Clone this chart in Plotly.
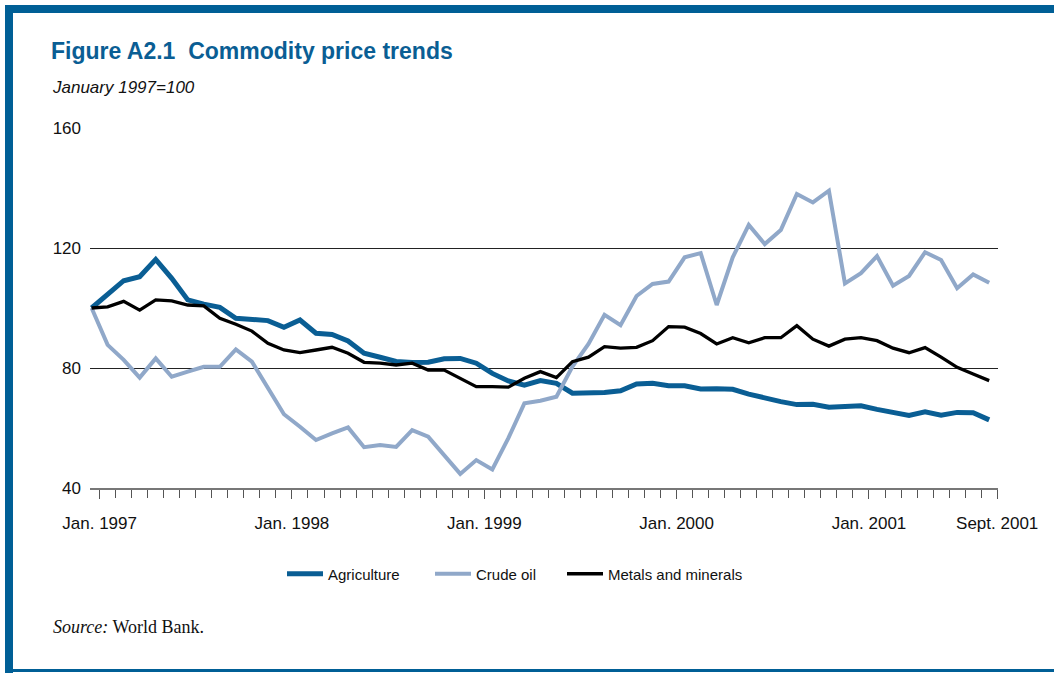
import plotly.graph_objects as go

# Monthly index values, January 1997 = 100 (Jan. 1997 .. Sept. 2001)
months = list(range(57))

agriculture = [
    100, 104.3, 109.1, 110.4, 116.2, 109.9, 102.7, 101.3, 100.2, 96.6,
    96.0, 95.8, 93.6, 96.0, 91.6, 91.2, 89.0, 84.9, 83.6, 82.2,
    81.8, 81.9, 83.1, 83.2, 81.6, 78.2, 75.7, 74.3, 75.8, 74.9,
    71.6, 71.7, 71.8, 72.4, 74.7, 74.9, 74.1, 74.1, 73.0, 73.1,
    72.9, 71.3, 69.9, 68.8, 67.8, 67.9, 66.9, 67.1, 67.4, 66.2,
    65.0, 64.2, 65.4, 64.3, 65.2, 65.1, 62.7,
]
crude_oil = [
    100, 87.7, 82.7, 76.8, 83.2, 77.1, 78.8, 80.4, 80.4, 86.2,
    82.1, 73.2, 64.6, 60.4, 56.0, 58.2, 60.2, 53.6, 54.3, 53.7,
    59.3, 57.1, 51.0, 44.7, 49.3, 46.2, 56.6, 68.2, 69.1, 70.4,
    80.5, 88.0, 97.7, 94.3, 104.0, 108.0, 108.8, 116.9, 118.3, 101.0,
    116.9, 127.7, 121.3, 126.0, 138.0, 135.2, 139.1, 108.2, 111.6, 117.3,
    107.4, 110.7, 118.6, 116.0, 106.6, 111.2, 108.4,
]
metals = [
    100, 100.4, 102.2, 99.3, 102.7, 102.4, 101.0, 100.7, 96.6, 94.6,
    92.3, 88.2, 86.0, 85.1, 86.0, 86.9, 84.9, 81.9, 81.6, 81.0,
    81.6, 79.3, 79.3, 76.6, 73.8, 73.8, 73.6, 76.6, 78.8, 76.8,
    82.1, 83.6, 87.1, 86.6, 86.9, 89.1, 93.8, 93.6, 91.5, 88.0,
    90.1, 88.4, 90.1, 90.1, 94.1, 89.6, 87.3, 89.6, 90.1, 89.1,
    86.6, 85.1, 86.8, 83.6, 80.2, 78.0, 75.8,
]

tick_months = [0, 12, 24, 36, 48, 56]
tick_labels = ["Jan. 1997", "Jan. 1998", "Jan. 1999", "Jan. 2000", "Jan. 2001", "Sept. 2001"]
y_ticks = [40, 80, 120, 160]

BLUE = "#0a5e94"
SANS = "Liberation Sans, Arial, sans-serif"

W, H = 1054, 673
L, R, T, B = 90, 56, 128, 185


def px_x(px):
    return (px - L) / (W - L - R)


def px_y(py):
    return (H - B - py) / (H - T - B)


fig = go.Figure()
fig.add_trace(go.Scatter(x=months, y=agriculture, name="Agriculture", mode="lines",
                         line=dict(color=BLUE, width=5), legend="legend"))
fig.add_trace(go.Scatter(x=months, y=crude_oil, name="Crude oil", mode="lines",
                         line=dict(color="#90a8c9", width=4), legend="legend2"))
fig.add_trace(go.Scatter(x=months, y=metals, name="Metals and minerals", mode="lines",
                         line=dict(color="#000000", width=3.3), legend="legend3"))

# ticks sit on the month boundaries
major = [m + 0.5 for m in tick_months]
x_range = [-0.1, 56.55]


def legend_at(px):
    # one legend per series so the entries can be spaced like the original
    return dict(orientation="h", x=px_x(px), xanchor="left", y=px_y(574), yanchor="middle",
                font=dict(family=SANS, size=15), itemwidth=36)


fig.update_layout(
    width=W, height=H,
    margin=dict(l=L, r=R, t=T, b=B),
    paper_bgcolor="white", plot_bgcolor="white",
    font=dict(family=SANS, size=17, color="#111"),
    showlegend=True,
    legend=legend_at(282),
    legend2=legend_at(430),
    legend3=legend_at(562),
    xaxis=dict(range=x_range, tickvals=major, ticktext=tick_labels,
               ticks="outside", ticklen=9, tickcolor="#555", tickwidth=1.2,
               showline=True, linecolor="#777", linewidth=1.6,
               showgrid=False, zeroline=False, ticklabelstandoff=10,
               minor=dict(tick0=0.5, dtick=1, ticks="outside", ticklen=8,
                          tickcolor="#555", tickwidth=1.2)),
    xaxis2=dict(range=x_range, overlaying="x", anchor="y", side="bottom",
                tickvals=major, ticks="inside", ticklen=6, tickcolor="#555", tickwidth=1.2,
                showticklabels=False, showline=False, showgrid=False, zeroline=False),
    yaxis=dict(range=[40, 160], tickvals=y_ticks, showgrid=True, gridcolor="#222",
               gridwidth=1, zeroline=False, showline=False, ticks="",
               ticklabelstandoff=8),
    hovermode=False,
)

fig.add_annotation(text="<b>Figure A2.1\u00a0 Commodity price trends</b>", xref="paper", yref="paper",
                   x=px_x(49), y=px_y(51), xanchor="left", yanchor="middle", showarrow=False,
                   font=dict(family=SANS, size=23, color=BLUE))
fig.add_annotation(text="<i>January 1997=100</i>", xref="paper", yref="paper",
                   x=px_x(50), y=px_y(88), xanchor="left", yanchor="middle", showarrow=False,
                   font=dict(family=SANS, size=17, color="#111"))
fig.add_annotation(text="<i>Source:</i> World Bank.", xref="paper", yref="paper",
                   x=px_x(51), y=px_y(627), xanchor="left", yanchor="middle", showarrow=False,
                   font=dict(family="Liberation Serif, Times New Roman, serif", size=18, color="#111"))

# blue page frame
frame = dict(type="rect", xref="paper", yref="paper", line_width=0, fillcolor="#005f96", layer="above")
fig.add_shape(**frame, x0=px_x(5), x1=px_x(13), y0=px_y(5), y1=px_y(673))
fig.add_shape(**frame, x0=px_x(5), x1=px_x(1054), y0=px_y(5), y1=px_y(13))
fig.add_shape(**frame, x0=px_x(5), x1=px_x(1054), y0=px_y(669), y1=px_y(672))

fig.write_html("out.html", config={"displayModeBar": False},
               post_script="document.body.style.margin='0';")
